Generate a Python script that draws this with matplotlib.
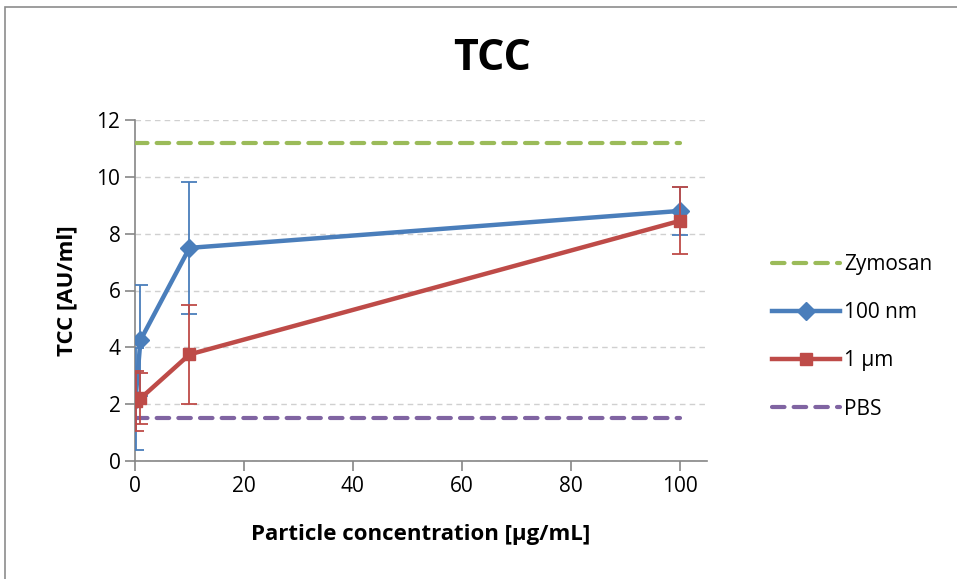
import matplotlib
matplotlib.use("Agg")
import matplotlib.pyplot as plt
from matplotlib.patches import Rectangle
from matplotlib.lines import Line2D

plt.rcParams['font.family'] = ['Open Sans', 'DejaVu Sans']

x_vals = [0.1, 1, 10, 100]
nm100 = [2.17, 4.25, 7.5, 8.8]
nm100_err = [1.8, 1.95, 2.33, 0.85]
um1 = [2.1, 2.2, 3.75, 8.45]
um1_err = [1.05, 0.9, 1.75, 1.18]
zymosan = 11.2
pbs = 1.5
x_ticks = [0, 20, 40, 60, 80, 100]
y_ticks = [0, 2, 4, 6, 8, 10, 12]

fig = plt.figure(figsize=(9.57, 5.79), dpi=100)
fig.patches.append(Rectangle((5/957, -0.1), 1.2, 1 - 7/579 + 0.1, transform=fig.transFigure,
                             fill=False, edgecolor='#8c8c8c', linewidth=1.2))
ax = fig.add_axes([135/957, 1 - 461/579, (707 - 135)/957, (461 - 120)/579])

blue = '#4a7ebb'
red = '#be4b48'
green = '#9bbb59'
purple = '#8064a2'

ax.plot([0, 100], [zymosan, zymosan], color=green, lw=3, dashes=(3, 2.2), dash_capstyle='round', zorder=3)
ax.errorbar(x_vals, nm100, yerr=nm100_err, color=blue, lw=3.2, marker='D', markersize=9,
            ecolor=blue, elinewidth=1.3, capsize=6, capthick=1.3, zorder=4)
ax.errorbar(x_vals, um1, yerr=um1_err, color=red, lw=3.2, marker='s', markersize=9,
            ecolor=red, elinewidth=1.3, capsize=6, capthick=1.3, zorder=5)
ax.plot([0, 100], [pbs, pbs], color=purple, lw=3, dashes=(3, 2.2), dash_capstyle='round', zorder=3)

ax.set_xlim(0, 105)
ax.set_ylim(0, 12)
ax.set_xticks(x_ticks)
ax.set_yticks(y_ticks)
ax.grid(axis='y', color='#d0d0d0', linestyle=(0, (4, 3)), lw=1)
ax.set_axisbelow(True)
for s in ['top', 'right']:
    ax.spines[s].set_visible(False)
for s in ['left', 'bottom']:
    ax.spines[s].set_color('#868686')
    ax.spines[s].set_linewidth(1.2)
ax.tick_params(axis='both', colors='#868686', labelcolor='black', labelsize=15, length=7, width=1.2)

fig.text(492/957, 1 - 58/579, 'TCC', fontsize=31, fontweight='bold', ha='center', va='center')
ax.set_xlabel('Particle concentration [µg/mL]', fontsize=16, fontweight='bold', labelpad=20)
ax.set_ylabel('TCC [AU/ml]', fontsize=16, fontweight='bold', labelpad=14)

handles = [
    Line2D([], [], color=green, lw=3, dashes=(3, 2.2), dash_capstyle='round'),
    Line2D([], [], color=blue, lw=3.2, marker='D', markersize=9),
    Line2D([], [], color=red, lw=3.2, marker='s', markersize=9),
    Line2D([], [], color=purple, lw=3, dashes=(3, 2.2), dash_capstyle='round'),
]
labels = ['Zymosan', '100 nm', '1 µm', 'PBS']
leg = ax.legend(handles, labels, loc='center left', bbox_to_anchor=(1.08, 0.364), frameon=False, fontsize=15,
                handlelength=3.3, labelspacing=1.3, handletextpad=0.2)

fig.savefig('out.png', dpi=100)
